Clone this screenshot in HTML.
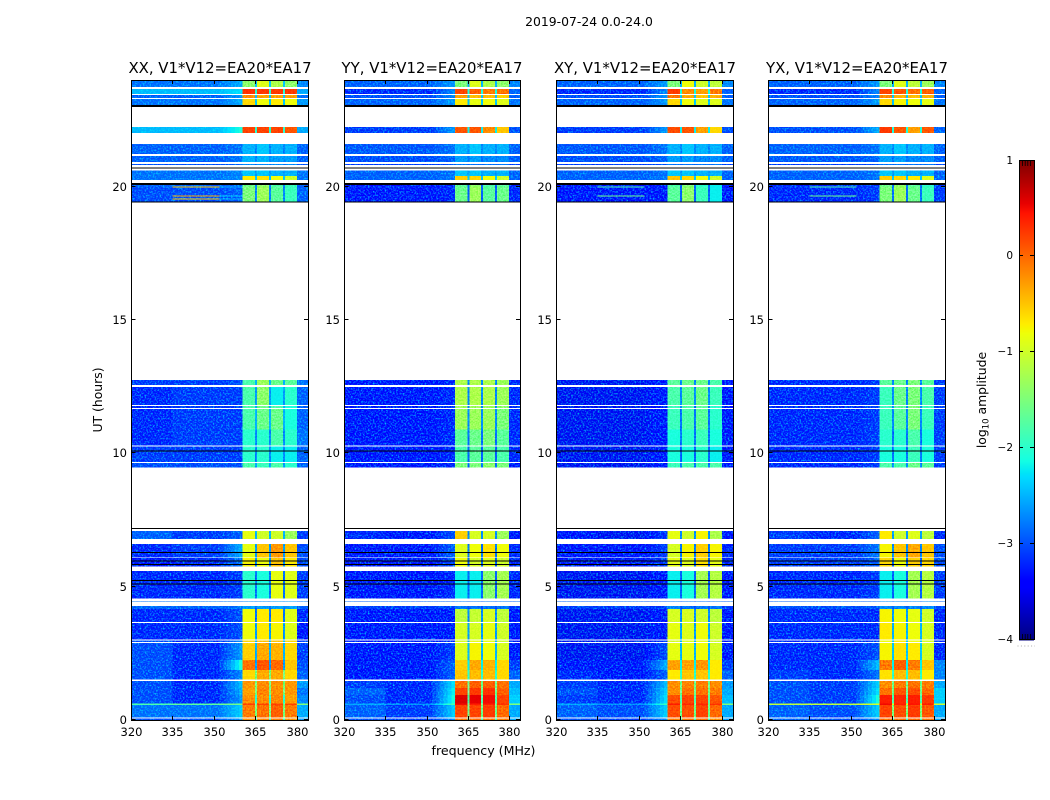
<!DOCTYPE html>
<html>
<head>
<meta charset="utf-8">
<style>
html,body{margin:0;padding:0;background:#fff}
svg{display:block}
text{font-family:"DejaVu Sans","Liberation Sans",sans-serif;fill:#000}
</style>
</head>
<body>
<svg id="fig" width="1050" height="800" viewBox="0 0 1050 800" xmlns="http://www.w3.org/2000/svg">
<defs>
<filter id="speckle" x="0" y="0" width="100%" height="100%" color-interpolation-filters="sRGB">
<feTurbulence type="fractalNoise" baseFrequency="0.6" numOctaves="2" seed="7"/>
<feColorMatrix type="matrix" values="0 0 0 0 0  1.9 0 0 0 -0.85  0 0 0 0 0  0 0 0 0 1"/>
</filter>
<filter id="grain" x="0" y="0" width="100%" height="100%" color-interpolation-filters="sRGB">
<feTurbulence type="fractalNoise" baseFrequency="0.6" numOctaves="2" seed="11"/>
<feColorMatrix type="matrix" values="2 0 0 0 -0.5  2 0 0 0 -0.5  2 0 0 0 -0.5  0 0 0 0 1"/>
</filter>
</defs>
<text x="589" y="26" font-size="12.4" text-anchor="middle">2019-07-24 0.0-24.0</text>
<text x="220" y="73" font-size="14.9" text-anchor="middle">XX, V1*V12=EA20*EA17</text>
<text x="432" y="73" font-size="14.9" text-anchor="middle">YY, V1*V12=EA20*EA17</text>
<text x="645" y="73" font-size="14.9" text-anchor="middle">XY, V1*V12=EA20*EA17</text>
<text x="857" y="73" font-size="14.9" text-anchor="middle">YX, V1*V12=EA20*EA17</text>
<text transform="translate(102,400) rotate(-90)" font-size="12.4" text-anchor="middle">UT (hours)</text>
<text x="483.5" y="755" font-size="12.6" text-anchor="middle">frequency (MHz)</text>
<text transform="translate(986,400) rotate(-90)" font-size="12.4" text-anchor="middle">log<tspan font-size="8.5" dy="2.5">10</tspan><tspan dy="-2.5"> amplitude</tspan></text>
<g id="panels"></g>
<g id="colorbar"></g>
</svg>
<script>
// ---- chart data ----
const xTickLabels = [320, 335, 350, 365, 380];
const yTickLabels = [0, 5, 10, 15, 20];
const colorbarTickLabels = [-4, -3, -2, -1, 0, 1];
// frequency columns in MHz: bgA, bgB, shoulder, band1, gap, band2, gap, band3, gap, band4, post
const freqEdges = [320, 335, 352, 360.4, 364.9, 365.6, 369.9, 370.6, 374.9, 375.6, 380, 384];
const hourStarts = [0,.09,.56,.62,.94,1.2,1.52,1.88,2.25,2.93,3.02,3.68,4.16,4.44,4.56,5.75,6.10,6.79,9.46,9.67,10.30,10.9,11.70,11.81,12.56,19.43,19.52,19.56,19.63,19.67,19.97,20.0,20.25,20.4,20.81,20.93,21.23,22.01,23.06,23.33,23.48,23.74];
const hourEnds   = [.06,.56,.62,.94,1.2,1.46,1.88,2.25,2.89,2.98,3.64,4.16,4.28,4.47,5.59,6.08,6.60,7.08,9.64,10.25,10.9,11.67,11.78,12.49,12.75,19.52,19.56,19.63,19.67,19.97,20.0,20.14,20.4,20.6,20.85,21.15,21.6,22.24,23.29,23.44,23.66,24];
const blackStarts = [5.08,5.21,5.82,5.96,6.27,7.17,10.07,19.42,20.06,20.7,22.99];
const blackEnds   = [5.12,5.25,5.85,5.99,6.30,7.20,10.11,19.45,20.14,20.72,23.06];
// log10 amplitude per observed row: bgA, bgB, shoulder, band1, gap, band2, band3, band4, post
const xxValues = [
[-3.1,-3.1,-2.7,-.2,-2,-.15,-.1,-.2,-2.7],[-2.9,-2.9,-2.4,-.1,-1.5,-.05,.05,-.1,-2.6],[-1.8,-1.7,-1.6,.2,-1.5,.2,.2,.2,-1.5],[-3.1,-3.3,-2.7,-.2,-2,-.2,-.15,-.3,-2.8],[-3.1,-3.3,-2.6,-.3,-1.5,-.15,-.2,-.25,-2.9],[-3.1,-3.3,-2.5,-.25,-1.5,-.2,-.2,-.25,-2.7],[-3.1,-3.3,-2.8,-.6,-1.5,-.35,-.35,-.6,-3],[-3.1,-3.3,-2.1,-.05,-2.6,.1,0,-.5,-3.1],[-3.1,-3.3,-2.7,-.55,-2.5,-.35,-.4,-.6,-3.2],[-3.1,-3.3,-2.8,-.6,-2.5,-.5,-.5,-.6,-3.2],
[-3.3,-3.3,-3.1,-.8,-2.6,-.7,-.75,-.9,-3.4],[-3.3,-3.3,-3.1,-.8,-2.8,-.7,-.7,-.9,-3.3],[-3,-3,-2.9,-2.6,-2.8,-2.6,-2.6,-2.6,-3],[-2.9,-2.9,-2.9,-2.7,-2.8,-2.7,-2.6,-2.6,-2.9],[-3.3,-3.3,-3.2,-2,-2.8,-2.1,-.85,-.9,-3.2],[-3.4,-3.3,-2.9,-.75,-2.7,-.8,-.5,-.7,-3.1],[-3.3,-3.2,-2.6,-.85,-2.6,-.5,-.25,-.5,-3.1],[-3,-3.2,-3,-.85,-2.5,-1,-1,-1.3,-3.2],
[-3.1,-3.1,-3.1,-1.8,-2.6,-1.9,-1.8,-2,-3],[-3.2,-3.2,-3.2,-2,-2.7,-2,-2.2,-2.2,-3],[-3.3,-3.2,-3.2,-2,-2.7,-2,-1.8,-2,-2.9],[-3.3,-3.2,-3.2,-1.8,-2.5,-1.6,-1.6,-2.1,-3],[-3.3,-3.2,-3.2,-1.8,-2.5,-1.6,-1.8,-2.1,-3],[-3.3,-3.2,-3.2,-1.8,-2.6,-1.4,-2.2,-2,-3],[-3.2,-3.2,-3.1,-1.8,-2.5,-1.3,-1.6,-1.7,-2.9],
[-3.1,-3.1,-3,-1.5,-2.7,-1.3,-1.7,-1.9,-3],[-3.1,-.5,-2.6,-1.5,-2.7,-1.3,-1.7,-1.9,-3],[-3.1,-3.1,-3,-1.5,-2.7,-1.3,-1.7,-1.9,-3],[-3.1,-.3,-2.4,-1.5,-2.7,-1.3,-1.7,-1.9,-3],[-3.1,-3.1,-3,-1.5,-2.7,-1.3,-1.7,-1.9,-3],[-3.1,-.5,-2.6,-1.5,-2.7,-1.3,-1.7,-1.9,-3],[-3,-3,-3,-1.6,-2.7,-1.4,-1.8,-1.9,-3],
[-2.9,-2.9,-2.8,-.7,-2.4,-.65,-.8,-1,-2.9],[-2.9,-2.9,-2.8,-2.4,-2.6,-2.4,-2.5,-2.5,-2.9],[-3.1,-3.1,-3,-2.7,-2.8,-2.7,-2.7,-2.7,-3.1],[-3,-3,-2.9,-2.5,-2.7,-2.5,-2.6,-2.6,-3],[-3,-3,-2.9,-2.5,-2.7,-2.4,-2.5,-2.5,-3],[-2.5,-2.5,-2.1,.2,-2,.2,.2,.1,-2.6],
[-2.9,-2.9,-2.6,-.6,-2.4,-.8,-.7,-.8,-2.7],[-3,-3,-2.7,-.2,-2.4,-.3,-.3,-.3,-2.9],[-2.5,-2.5,-2.3,.3,-2,.25,.25,.25,-2.6],[-2.9,-2.9,-2.6,-1.4,-2.4,-.9,-1.2,-1.4,-2.8]];
const yyValues = [
[-3.1,-3.2,-2.8,-.05,-2,-.05,-.05,-.1,-2.6],[-3,-3.2,-2.4,.2,-1.6,.2,.25,0,-2.6],[-2.6,-2.7,-1.8,.5,-1.5,.4,.4,.3,-1.5],[-3.1,-3.3,-2.1,.6,-1.8,.55,.5,.2,-2.4],[-3,-3.3,-2.2,.2,-1.6,.25,.3,.05,-2.5],[-3.2,-3.3,-2.3,-.05,-1.6,.05,.05,-.05,-2.6],[-3.4,-3.4,-3,-.5,-2,-.45,-.45,-.6,-3],[-3.4,-3.4,-3,-.55,-2.2,-.35,-.4,-.6,-3.2],[-3.4,-3.4,-3.2,-.9,-2.5,-.75,-.8,-.95,-3.4],[-3.4,-3.4,-3.3,-.95,-2.5,-.85,-.85,-1,-3.4],
[-3.4,-3.4,-3.4,-.95,-2.6,-.95,-.85,-1,-3.4],[-3.4,-3.4,-3.4,-1.1,-2.7,-1.05,-.95,-1.1,-3.4],[-3.2,-3.2,-3.2,-2.8,-3,-2.8,-2.8,-2.8,-3.2],[-3,-3,-3,-2.8,-3,-2.8,-2.8,-2.8,-3],[-3.4,-3.4,-3.3,-2.2,-2.9,-2.2,-1.4,-1.25,-3.3],[-3.4,-3.4,-3.1,-.8,-2.9,-.95,-.9,-1,-3.3],[-3.4,-3.4,-3,-.9,-2.8,-.8,-.65,-.8,-3.3],[-3.3,-3.4,-3.1,-.55,-2.7,-.95,-.95,-1.3,-3.4],
[-3.4,-3.4,-3.3,-1.5,-2.8,-1.5,-1.4,-1.5,-3.4],[-3.45,-3.4,-3.3,-1.8,-2.9,-1.7,-1.7,-1.8,-3.3],[-3.45,-3.4,-3.3,-1.7,-2.8,-1.6,-1.5,-1.7,-3.3],[-3.45,-3.4,-3.3,-1.3,-2.7,-1.3,-1.3,-1.5,-3.3],[-3.45,-3.4,-3.3,-1.3,-2.7,-1.3,-1.3,-1.4,-3.3],[-3.45,-3.4,-3.3,-1.2,-2.7,-1.2,-1.2,-1.3,-3.3],[-3.4,-3.4,-3.3,-1.2,-2.7,-1.2,-1.2,-1.3,-3.3],
[-3.4,-3.4,-3.3,-1.6,-2.9,-1.3,-1.7,-1.6,-3.3],[-3.4,-3.4,-3.3,-1.6,-2.9,-1.3,-1.7,-1.6,-3.3],[-3.4,-3.4,-3.3,-1.6,-2.9,-1.3,-1.7,-1.6,-3.3],[-3.4,-3.3,-3.3,-1.6,-2.9,-1.3,-1.7,-1.6,-3.3],[-3.4,-3.4,-3.3,-1.6,-2.9,-1.3,-1.7,-1.6,-3.3],[-3.4,-3.3,-3.3,-1.6,-2.9,-1.3,-1.7,-1.6,-3.3],[-3.4,-3.4,-3.3,-1.7,-2.9,-1.4,-1.8,-1.7,-3.3],
[-3,-3,-2.9,-.55,-2.4,-.6,-.8,-1,-3],[-3,-3,-2.9,-2.4,-2.6,-2.4,-2.5,-2.5,-3],[-3.2,-3.2,-3.1,-2.8,-2.9,-2.8,-2.8,-2.8,-3.2],[-3.1,-3.1,-3,-2.6,-2.8,-2.6,-2.7,-2.7,-3],[-3.05,-3.05,-2.9,-2.5,-2.7,-2.4,-2.5,-2.5,-3],[-3.2,-3.2,-2.7,.1,-2.2,.1,-.2,-.5,-3.1],
[-3,-3,-2.7,-.7,-2.4,-.85,-.8,-.9,-2.9],[-3.1,-3.1,-2.8,-.3,-2.4,-.45,-.45,-.55,-3],[-3.3,-3.3,-2.8,.2,-2.1,.05,-.1,-.05,-3],[-3,-3,-2.7,-1.5,-2.5,-.9,-1.2,-1.4,-2.8]];
const xyValues = [
[-3.1,-3.2,-2.8,-.1,-2,-.05,-.05,-.2,-2.7],[-3,-3.1,-2.4,.15,-1.6,.15,.2,0,-2.6],[-2.6,-2.7,-1.9,.4,-1.5,.35,.35,.3,-1.5],[-3.2,-3.3,-2.3,.15,-1.8,.2,.2,.1,-2.5],[-3.1,-3.3,-2.4,-.2,-1.6,-.05,-.05,-.1,-2.6],[-3.2,-3.3,-2.5,-.2,-1.6,-.15,-.1,-.2,-2.7],[-3.3,-3.4,-3,-.7,-2,-.5,-.5,-.7,-3],[-3.4,-3.4,-2.6,-.3,-2.2,-.3,-.25,-.7,-3.2],[-3.5,-3.5,-3.1,-.85,-2.5,-.85,-.8,-.95,-3.4],[-3.5,-3.5,-3.2,-.95,-2.5,-.9,-.85,-1,-3.4],
[-3.5,-3.5,-3.4,-.85,-2.6,-.9,-.8,-1,-3.4],[-3.5,-3.5,-3.4,-.95,-2.7,-.95,-1,-1.1,-3.4],[-3.2,-3.2,-3.2,-2.7,-3,-2.8,-2.8,-2.8,-3.2],[-3,-3,-3,-2.8,-3,-2.8,-2.8,-2.8,-3],[-3.5,-3.5,-3.4,-2.2,-2.9,-2.1,-1.25,-1.15,-3.4],[-3.4,-3.4,-3.2,-.85,-2.9,-.9,-.65,-.85,-3.3],[-3.4,-3.4,-3.2,-.95,-2.8,-.75,-.55,-.75,-3.3],[-3.4,-3.5,-3.2,-.85,-2.7,-1,-.75,-1.2,-3.4],
[-3.5,-3.5,-3.4,-1.9,-2.8,-1.8,-1.8,-1.8,-3.4],[-3.5,-3.5,-3.4,-2.1,-2.9,-2.1,-2,-2.2,-3.4],[-3.5,-3.5,-3.4,-2.1,-2.8,-2,-1.9,-2.1,-3.4],[-3.5,-3.5,-3.4,-1.9,-2.8,-1.8,-1.7,-2,-3.4],[-3.5,-3.5,-3.4,-1.9,-2.8,-1.8,-1.7,-2,-3.4],[-3.5,-3.5,-3.4,-1.8,-2.7,-1.7,-1.6,-1.9,-3.4],[-3.5,-3.5,-3.4,-1.7,-2.7,-1.6,-1.6,-1.8,-3.4],
[-3.45,-3.45,-3.4,-1.7,-2.9,-1.4,-1.9,-2.2,-3.4],[-3.45,-3.45,-3.4,-1.7,-2.9,-1.4,-1.9,-2.2,-3.4],[-3.45,-3.45,-3.4,-1.7,-2.9,-1.4,-1.9,-2.2,-3.4],[-3.45,-1.6,-3.4,-1.7,-2.9,-1.4,-1.9,-2.2,-3.4],[-3.45,-3.45,-3.4,-1.7,-2.9,-1.4,-1.9,-2.2,-3.4],[-3.45,-1.8,-3.4,-1.7,-2.9,-1.4,-1.9,-2.2,-3.4],[-3.45,-3.45,-3.4,-1.8,-2.9,-1.5,-2,-2.2,-3.4],
[-3,-3,-2.9,-.5,-2.4,-.6,-.8,-1,-3],[-3,-3,-2.9,-2.4,-2.6,-2.4,-2.5,-2.5,-3],[-3.2,-3.2,-3.1,-2.8,-2.9,-2.8,-2.8,-2.8,-3.2],[-3.1,-3.1,-3,-2.6,-2.8,-2.6,-2.7,-2.7,-3],[-3.05,-3.05,-2.9,-2.5,-2.7,-2.4,-2.5,-2.5,-3],[-3.2,-3.2,-2.7,.15,-2.2,.1,-.3,-.6,-3.1],
[-3,-3,-2.7,-.6,-2.4,-.8,-.9,-.9,-2.9],[-3.1,-3.1,-2.7,-.1,-2.4,-.35,-.5,-.4,-3],[-3.3,-3.3,-2.8,.25,-2.1,-.2,-.3,-.1,-3],[-3,-3,-2.7,-1.5,-2.5,-.8,-1,-1.1,-2.8]];
const yxValues = [
[-3,-3.1,-2.8,-.05,-2,-.05,0,-.05,-2.6],[-3,-3.1,-2.4,.2,-1.5,.15,.25,.1,-2.6],[-1.1,-1.1,-1,.5,-.9,.4,.45,.4,-1],[-3.1,-3.2,-2.1,.4,-1.8,.35,.4,.25,-2.4],[-3.1,-3.2,-2.3,-.05,-1.6,.1,.15,0,-2.4],[-3.1,-3.2,-2.4,-.2,-1.6,-.1,-.05,-.1,-2.6],[-3.2,-3.3,-2.9,-.65,-2,-.45,-.45,-.7,-2.8],[-3.3,-3.3,-2.5,-.1,-2.2,.05,-.1,-.5,-2.8],[-3.3,-3.3,-3.1,-.75,-2.4,-.65,-.7,-.95,-3.3],[-3.3,-3.3,-3.2,-.8,-2.4,-.7,-.8,-.95,-3.3],
[-3.3,-3.3,-3.3,-.7,-2.5,-.75,-.8,-.95,-3.3],[-3.3,-3.3,-3.3,-.75,-2.6,-.8,-.85,-1,-3.3],[-3.1,-3.1,-3.1,-2.7,-2.9,-2.7,-2.7,-2.7,-3.1],[-3,-3,-3,-2.7,-2.9,-2.7,-2.7,-2.7,-3],[-3.3,-3.3,-3.2,-2.2,-2.9,-2.1,-1.25,-1.15,-3.2],[-3.2,-3.2,-3,-.6,-2.9,-.8,-.55,-.6,-3.1],[-3.2,-3.2,-2.9,-.75,-2.7,-.5,-.35,-.5,-3.1],[-3.2,-3.3,-3,-.7,-2.6,-1,-.9,-1.1,-3.3],
[-3.3,-3.3,-3.2,-1.8,-2.7,-1.8,-1.6,-1.7,-3.2],[-3.3,-3.3,-3.2,-2.1,-2.8,-2.1,-1.9,-2.1,-3.2],[-3.3,-3.3,-3.2,-2,-2.8,-2,-1.8,-2.1,-3.2],[-3.3,-3.3,-3.2,-1.9,-2.7,-1.7,-1.5,-1.9,-3.2],[-3.3,-3.3,-3.2,-1.9,-2.7,-1.7,-1.5,-1.9,-3.2],[-3.3,-3.3,-3.2,-1.9,-2.7,-1.6,-1.5,-1.8,-3.2],[-3.3,-3.3,-3.2,-1.7,-2.7,-1.6,-1.5,-1.7,-3.2],
[-3.3,-3.3,-3.2,-1.5,-2.8,-1.3,-1.6,-1.9,-3.2],[-3.3,-3.3,-3.2,-1.5,-2.8,-1.3,-1.6,-1.9,-3.2],[-3.3,-3.3,-3.2,-1.5,-2.8,-1.3,-1.6,-1.9,-3.2],[-3.3,-1.6,-3.2,-1.5,-2.8,-1.3,-1.6,-1.9,-3.2],[-3.3,-3.3,-3.2,-1.5,-2.8,-1.3,-1.6,-1.9,-3.2],[-3.3,-1.8,-3.2,-1.5,-2.8,-1.3,-1.6,-1.9,-3.2],[-3.3,-3.3,-3.2,-1.6,-2.8,-1.4,-1.7,-2,-3.2],
[-3,-3,-2.9,-.55,-2.4,-.6,-.7,-.9,-3],[-3,-3,-2.9,-2.4,-2.6,-2.4,-2.5,-2.5,-3],[-3.2,-3.2,-3.1,-2.8,-2.9,-2.8,-2.8,-2.8,-3.2],[-3.05,-3.05,-3,-2.6,-2.8,-2.6,-2.7,-2.7,-3],[-3,-3,-2.9,-2.5,-2.7,-2.4,-2.5,-2.5,-3],[-3.1,-3.1,-2.6,.25,-2.1,.1,-.3,.1,-3],
[-3,-3,-2.7,-.6,-2.4,-.75,-.8,-.85,-2.9],[-3.1,-3.1,-2.8,-.2,-2.4,-.4,-.45,-.4,-3],[-3.3,-3.3,-2.8,.2,-2.1,.1,-.05,.05,-3],[-3,-3,-2.7,-1.5,-2.5,-.9,-1.1,-1.3,-2.8]];

// ---- drawing ----
const NS = 'http://www.w3.org/2000/svg';
function mk(parent, tag, attrs, text) {
  const el = document.createElementNS(NS, tag);
  for (const k in attrs) el.setAttribute(k, attrs[k]);
  if (text !== undefined) el.textContent = text;
  parent.appendChild(el);
  return el;
}
function ramp(t, pts) {
  for (let i = 1; i < pts.length; i++) {
    if (t <= pts[i][0]) {
      const a = pts[i - 1], b = pts[i];
      return a[1] + (b[1] - a[1]) * (t - a[0]) / (b[0] - a[0]);
    }
  }
  return pts[pts.length - 1][1];
}
function jet(v) {
  if (v < -5) return '#000';
  const t = Math.max(0, Math.min(1, (v + 4) / 5));
  const r = ramp(t, [[0,0],[.35,0],[.66,1],[.89,1],[1,.5]]);
  const g = ramp(t, [[0,0],[.125,0],[.375,1],[.64,1],[.91,0],[1,0]]);
  const b = ramp(t, [[0,.5],[.11,1],[.34,1],[.65,0],[1,0]]);
  return 'rgb(' + Math.round(r * 255) + ',' + Math.round(g * 255) + ',' + Math.round(b * 255) + ')';
}
const axTop = 80, axBottom = 720;
const yScale = h => axBottom - (h / 24) * (axBottom - axTop);
const panelLayout = [
  {key: 'xx', left: 131, width: 177, values: xxValues},
  {key: 'yy', left: 344, width: 176, values: yyValues},
  {key: 'xy', left: 556, width: 177, values: xyValues},
  {key: 'yx', left: 768, width: 177, values: yxValues}
];
// column index in a value row for each frequency column; gaps share one value
const columnSource = [0, 1, 2, 3, 4, 5, 4, 6, 4, 7, 8];
const shoulderColumn = 2, shoulderSteps = 6;
const root = document.getElementById('panels');
panelLayout.forEach(p => {
  const xScale = f => p.left + (f - 320) / 64 * p.width;
  const g = mk(root, 'g', {});
  
  
  const cells = mk(g, 'g', {'shape-rendering': 'crispEdges', style: 'isolation:isolate'});
  
  
  const backdrop = mk(cells, 'rect', {x: p.left, y: axTop, width: p.width, height: axBottom - axTop, fill: '#fff'});
  
  
  p.values.forEach((row, r) => {
    const yT = yScale(hourEnds[r]), yB = yScale(hourStarts[r]);
    const h = Math.max(yB - yT, 0.8);
    columnSource.forEach((src, c) => {
      const x0 = xScale(freqEdges[c]), x1 = xScale(freqEdges[c + 1]);
      if (c === shoulderColumn) {
        // the rise toward the band is drawn as a short ramp from bgB to the shoulder level
        for (let s = 0; s < shoulderSteps; s++) {
          const v = row[1] < -2.2 ? row[1] + (row[src] - row[1]) * (s + 1) / shoulderSteps : row[src];
          const sub = mk(cells, 'rect', {x: x0 + (x1 - x0) * s / shoulderSteps, y: yT, width: (x1 - x0) / shoulderSteps + .4, height: h, fill: jet(v)});
          
          
        }
        return;
      }
      const cell = mk(cells, 'rect', {x: x0, y: yT, width: x1 - x0, height: h, fill: jet(row[src])});
      
      
    });
  });
  // speckle texture: adds green noise over the quiet background, faint grain over the bands
  const spA = mk(cells, 'rect', {x: p.left, y: axTop, width: xScale(360.4) - p.left, height: axBottom - axTop, filter: 'url(#speckle)', style: 'mix-blend-mode:screen'});
  
  
  const spB = mk(cells, 'rect', {x: xScale(380), y: axTop, width: xScale(384) - xScale(380), height: axBottom - axTop, filter: 'url(#speckle)', style: 'mix-blend-mode:screen'});
  
  
  const spC = mk(cells, 'rect', {x: xScale(360.4), y: axTop, width: xScale(380) - xScale(360.4), height: axBottom - axTop, filter: 'url(#grain)', opacity: .35, style: 'mix-blend-mode:overlay'});
  
  
  blackStarts.forEach((h, i) => {
    const yT = yScale(blackEnds[i]), yB = yScale(h);
    const line = mk(g, 'rect', {x: p.left, y: yT, width: p.width, height: Math.max(yB - yT, 1), fill: '#000', 'shape-rendering': 'crispEdges'});
    
    
  });
  const frame = mk(g, 'rect', {x: p.left + .5, y: axTop + .5, width: p.width, height: axBottom - axTop, fill: 'none', stroke: '#000', 'stroke-width': 1});
  
  
  xTickLabels.forEach(f => {
    const x = Math.round(xScale(f)) + .5;
    const t1 = mk(g, 'path', {d: 'M' + x + ' ' + axBottom + 'v-4M' + x + ' ' + axTop + 'v4', stroke: '#000', 'stroke-width': 1, fill: 'none'});
    
    
    const lab = mk(g, 'text', {x: x, y: 736, 'font-size': 11.5, 'text-anchor': 'middle'}, String(f));
    
    
  });
  yTickLabels.forEach(h => {
    const y = Math.round(yScale(h)) - .5;
    const t2 = mk(g, 'path', {d: 'M' + p.left + ' ' + y + 'h4.5M' + (p.left + p.width) + ' ' + y + 'h-4', stroke: '#000', 'stroke-width': 1, fill: 'none'});
    
    
    const lab = mk(g, 'text', {x: p.left - 4, y: y + 4.5, 'font-size': 11.5, 'text-anchor': 'end'}, String(h));
    
    
  });
});

// colorbar
const cb = document.getElementById('colorbar');
const cbLeft = 1019, cbWidth = 15, cbTop = 160, cbBottom = 640;
const cbScale = v => cbBottom - (v + 4) / 5 * (cbBottom - cbTop);
const cbSteps = 240;
for (let i = 0; i < cbSteps; i++) {
  const v0 = -4 + 5 * i / cbSteps, v1 = -4 + 5 * (i + 1) / cbSteps;
  const s = mk(cb, 'rect', {x: cbLeft, y: cbScale(v1), width: cbWidth, height: cbScale(v0) - cbScale(v1) + .3, fill: jet((v0 + v1) / 2), 'shape-rendering': 'crispEdges'});
  
  
}
const cbFrame = mk(cb, 'rect', {x: cbLeft + .5, y: cbTop + .5, width: cbWidth, height: bottomOfBar(), fill: 'none', stroke: '#000', 'stroke-width': 1});
function bottomOfBar() { return cbBottom - cbTop - 1; }


colorbarTickLabels.forEach(v => {
  const y = Math.round(cbScale(v)) + (v === 1 ? .5 : -.5);
  const t = mk(cb, 'path', {d: 'M' + cbLeft + ' ' + y + 'h4M' + (cbLeft + cbWidth) + ' ' + y + 'h-4', stroke: '#000', 'stroke-width': 1, fill: 'none'});
  
  
  const lab = mk(cb, 'text', {x: 1013, y: y + 3.5, 'font-size': 10.5, 'text-anchor': 'end'}, v < 0 ? '\u2212' + Math.abs(v) : String(v));
  
  
});
for (let i = 1; i < 5; i++) {
  const xm = cbLeft + 1 + i * 13 / 5;
  const tt = mk(cb, 'path', {d: 'M' + xm + ' ' + (cbTop + 1) + 'v5M' + xm + ' ' + (cbBottom - 1) + 'v-5', stroke: '#000', 'stroke-width': .8, fill: 'none'});
  
  
}
const dots = mk(cb, 'line', {x1: 1017.5, x2: 1035, y1: 646, y2: 646, stroke: '#aaa', 'stroke-width': 1, 'stroke-dasharray': '1 2.4'});


</script>
</body>
</html>
